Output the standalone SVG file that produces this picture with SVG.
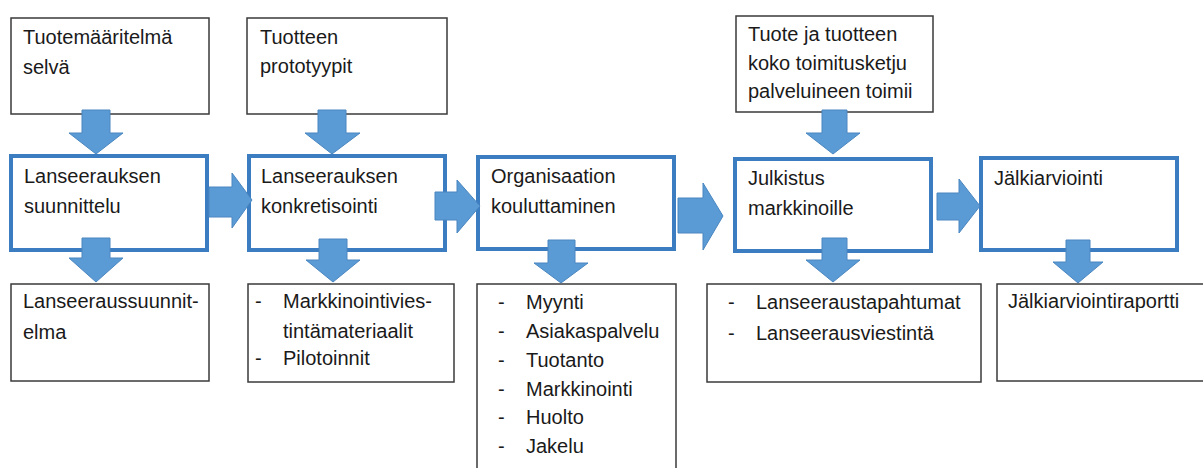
<svg xmlns="http://www.w3.org/2000/svg" width="1203" height="468" viewBox="0 0 1203 468">
<defs>
<style>
.thin{fill:#fff;stroke:#3a3a3a;stroke-width:1.5}
.main{fill:#fff;stroke:#3c7dc2;stroke-width:4}
.arr{fill:#5b9bd5;stroke:#4a86c0;stroke-width:1}
text{font-family:"Liberation Sans",Arial,sans-serif;font-size:20px;fill:#1a1a1a}
</style>
</defs>
<rect width="1203" height="468" fill="#fff"/>
<g id="top1"><rect class="thin" x="11" y="18" width="198" height="96"/><text x="23" y="44">Tuotemääritelmä</text><text x="23" y="74">selvä</text></g>
<g id="top2"><rect class="thin" x="247" y="18" width="200" height="96"/><text x="260" y="44">Tuotteen</text><text x="260" y="73">prototyypit</text></g>
<g id="top3"><rect class="thin" x="736" y="16" width="197" height="96"/><text x="748" y="41">Tuote ja tuotteen</text><text x="748" y="70">koko toimitusketju</text><text x="748" y="98">palveluineen toimii</text></g>
<g id="main1"><rect class="main" x="11" y="156" width="196" height="94"/><text x="24" y="183">Lanseerauksen</text><text x="24" y="213">suunnittelu</text></g>
<g id="main2"><rect class="main" x="249" y="156" width="196" height="94"/><text x="261" y="183">Lanseerauksen</text><text x="261" y="213">konkretisointi</text></g>
<g id="main3"><rect class="main" x="478" y="157" width="196" height="92"/><text x="491" y="183">Organisaation</text><text x="491" y="213">kouluttaminen</text></g>
<g id="main4"><rect class="main" x="735" y="159" width="196" height="92"/><text x="748" y="185">Julkistus</text><text x="748" y="215">markkinoille</text></g>
<g id="main5"><rect class="main" x="981" y="158" width="196" height="92"/><text x="994" y="185">Jälkiarviointi</text></g>
<g id="out1"><rect class="thin" x="11" y="284" width="198" height="97"/><text x="23" y="308">Lanseeraussuunnit-</text><text x="23" y="339">elma</text></g>
<g id="out2"><rect class="thin" x="248" y="284" width="206" height="98"/><text x="255" y="308">-</text><text x="283" y="308">Markkinointivies-</text><text x="283" y="338">tintämateriaalit</text><text x="255" y="365">-</text><text x="283" y="365">Pilotoinnit</text></g>
<g id="out3"><rect class="thin" x="477" y="284" width="199" height="200"/>
<text x="498" y="309">-</text><text x="526" y="309">Myynti</text>
<text x="498" y="338">-</text><text x="526" y="338">Asiakaspalvelu</text>
<text x="498" y="367">-</text><text x="526" y="367">Tuotanto</text>
<text x="498" y="396">-</text><text x="526" y="396">Markkinointi</text>
<text x="498" y="424">-</text><text x="526" y="424">Huolto</text>
<text x="498" y="453">-</text><text x="526" y="453">Jakelu</text></g>
<g id="out4"><rect class="thin" x="707" y="284" width="274" height="98"/><text x="728" y="309">-</text><text x="756" y="309">Lanseeraustapahtumat</text><text x="728" y="340">-</text><text x="756" y="340">Lanseerausviestintä</text></g>
<g id="out5"><rect class="thin" x="997" y="284" width="215" height="97"/><text x="1008" y="308">Jälkiarviointiraportti</text></g>
<g id="connectors">
<polygon class="arr" points="82,110 110,110 110,133 123,133 96,154 69,133 82,133"/>
<polygon class="arr" points="318,110 346,110 346,133 360,133 332,154 305,133 318,133"/>
<polygon class="arr" points="822,110 847,110 847,133 860,133 833,154 806,133 822,133"/>
<polygon class="arr" points="82,238 110,238 110,258 123,258 96,282 69,258 82,258"/>
<polygon class="arr" points="319,239 347,239 347,260 360,260 333,282 306,260 319,260"/>
<polygon class="arr" points="548,240 575,240 575,263 588,263 561,283 534,263 548,263"/>
<polygon class="arr" points="822,238 847,238 847,260 860,260 833,282 806,260 822,260"/>
<polygon class="arr" points="1066,240 1090,240 1090,262 1103,262 1078,283 1053,262 1066,262"/>
<polygon class="arr" points="209,187 232,187 232,173 252,200 232,228 232,217 209,217"/>
<polygon class="arr" points="435,192 457,192 457,180 480,206 457,233 457,220 435,220"/>
<polygon class="arr" points="678,198 703,198 703,183 723,216 703,250 703,233 678,233"/>
<polygon class="arr" points="937,193 959,193 959,179 980,206 959,233 959,220 937,220"/>
</g>
</svg>
